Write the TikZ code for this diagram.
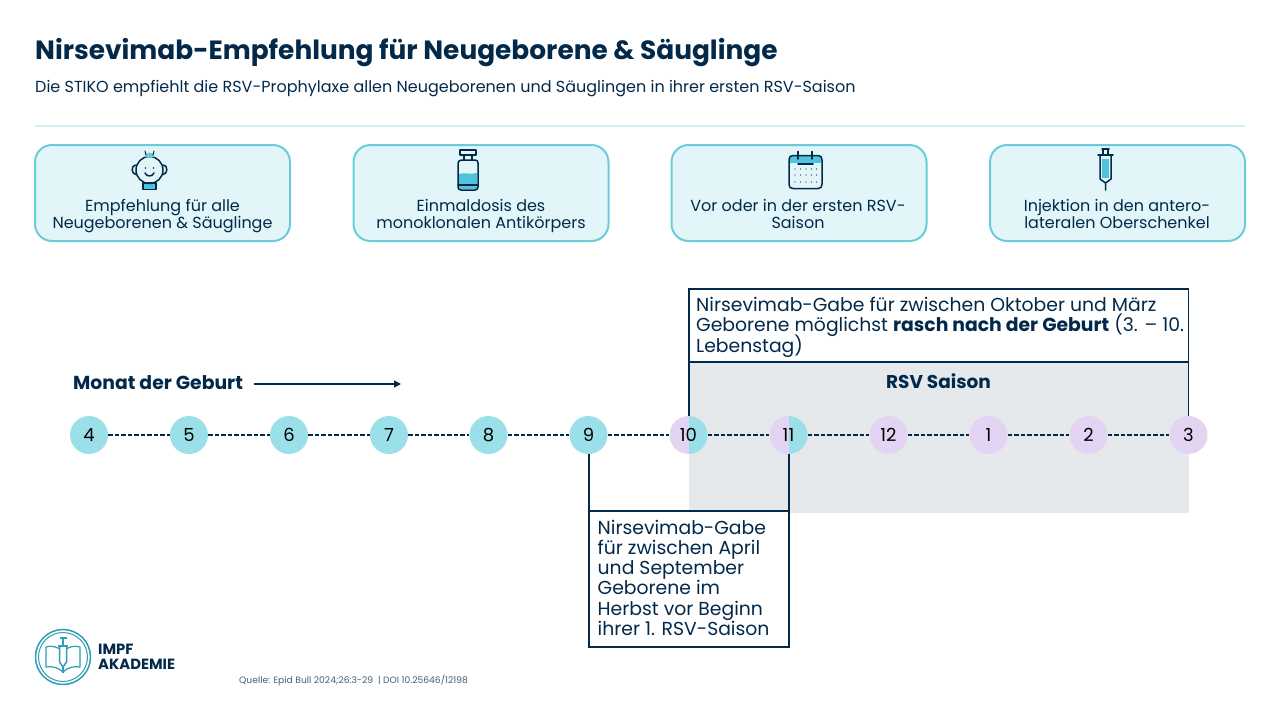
\documentclass[tikz,border=0pt]{standalone}
\usepackage{fontspec}
\setmainfont{Poppins}
\usetikzlibrary{positioning,arrows.meta}
\setlength{\lineskiplimit}{-20pt}
\definecolor{navy}{HTML}{03294A}
\definecolor{teal}{HTML}{6CCBDB}
\definecolor{rulecolor}{HTML}{D3EFF3}
\definecolor{tealfill}{HTML}{E2F5F9}
\definecolor{tealdot}{HTML}{9BDFE9}
\definecolor{lilac}{HTML}{E4D4F3}
\definecolor{seasongray}{HTML}{E5E9EC}
\definecolor{iconfill}{HTML}{4FC3D9}
\definecolor{logoteal}{HTML}{2E9DB5}
\tikzset{
  card/.style={draw=teal, line width=2pt, fill=tealfill, rounded corners=17pt, outer sep=0pt, minimum width=255pt, minimum height=96pt, anchor=north west},
  cardtext/.style={text=navy, font=\fontsize{16}{17}\selectfont, align=center, anchor=north},
  month/.style={circle, minimum size=38pt, inner sep=0pt, text=black, font=\fontsize{18}{18}\selectfont},
  tealmonth/.style={month, fill=tealdot},
  lilacmonth/.style={month, fill=lilac},
  halfmonth/.style={month, path picture={
      \fill[lilac] (path picture bounding box.south west) rectangle (path picture bounding box.north);
      \fill[tealdot] (path picture bounding box.south) rectangle (path picture bounding box.north east);}},
  link/.style={navy, line width=1.7pt, dash pattern=on 4.5pt off 2pt, yshift=-1pt},
  infobox/.style={draw=navy, line width=1.6pt, fill=white, outer sep=0pt, anchor=north west, inner sep=0pt},
  boxtext/.style={anchor=north west, inner sep=0pt, text=navy, align=left, font=\fontsize{18.8}{20.3}\selectfont},
  bracket/.style={navy, line width=1.6pt},
  icon/.style={navy, line width=1.5pt, line join=round, line cap=round},
  logoline/.style={logoteal, line width=1.2pt, line join=round}
}
\begin{document}
\begin{tikzpicture}[x=1pt,y=-1pt]
  \useasboundingbox (0,0) rectangle (1280,720);

  % Title
  \node[anchor=west, inner sep=0pt, text=navy, font=\fontsize{26.4}{27}\selectfont\bfseries] (title) at (35,53) {Nirsevimab-Empfehlung für Neugeborene \& Säuglinge};
  \node[anchor=west, inner sep=0pt, text=navy, font=\fontsize{16}{17}\selectfont] (subtitle) at (35,88.5) {Die STIKO empfiehlt die RSV-Prophylaxe allen Neugeborenen und Säuglingen in ihrer ersten RSV-Saison};
  \draw[rulecolor, line width=1.6pt] (35,126) -- (1245,126);

  % Cards
  \node[card] (cardbaby) at (35,145) {};
  \node[card] (cardvial) at (353.5,145) {};
  \node[card] (cardcal) at (671.5,145) {};
  \node[card] (cardsyringe) at (990,145) {};
  \node[cardtext] (textbaby) at (162.5,196) {Empfehlung für alle\\Neugeborenen \& Säuglinge};
  \node[cardtext] (textvial) at (481,196) {Einmaldosis des\\monoklonalen Antikörpers};
  \node[cardtext] (textcal) at (798,196) {Vor oder in der ersten RSV-\\Saison};
  \node[cardtext] (textsyringe) at (1117,196) {Injektion in den antero-\\lateralen Oberschenkel};

  % Baby
  \fill[iconfill] (143,183) rectangle (156,189.5);
  \draw[icon] (143,183) rectangle (156,189.5);
  \draw[icon] (135.5,165) .. controls (131,165.5) and (131,174) .. (136,174.5);
  \draw[icon] (163.5,165) .. controls (168,165.5) and (168,174) .. (163,174.5);
  \draw[icon] (149.5,170) circle (13.5);
  \fill[teal] (144.5,157) arc (180:360:5 and 4.5) -- cycle;
  \draw[icon, line width=1pt] (146,155) -- (145,151) (153,155) -- (154,151);
  \fill[navy] (145.5,168) circle (0.9) (153.5,168) circle (0.9);
  \draw[icon] (145,173) .. controls (147,177) and (152,177) .. (154,173);

  % Vial
  \fill[iconfill] (459,174) .. controls (464,172) and (470,175) .. (477,173) -- (477,189) -- (459,189) -- cycle;
  \draw[icon] (458,163) .. controls (458,161) and (460,160) .. (462,160) -- (475,160) .. controls (477,160) and (478,161) .. (478,163) -- (478,187) .. controls (478,189) and (477,190) .. (475,190) -- (461,190) .. controls (459,190) and (458,189) .. (458,187) -- cycle;
  \draw[icon] (460,150) rectangle (476,155) (464,155) -- (464,160) (472,155) -- (472,160) (458,185) -- (478,185);

  % Calendar
  \fill[iconfill] (790,156) rectangle (821,163);
  \draw[icon] (793,155.5) -- (818,155.5) .. controls (821,155.5) and (822,157) .. (822,160) -- (822,184) .. controls (822,187) and (821,188.5) .. (818,188.5) -- (793,188.5) .. controls (790,188.5) and (789,187) .. (789,184) -- (789,160) .. controls (789,157) and (790,155.5) .. (793,155.5) -- cycle;
  \draw[icon] (798,151.5) -- (798,159) (812,151.5) -- (812,159) (798,164) -- (813,164);
  \foreach \col in {795,800.5,806,811.5,816.5}
    \foreach \row in {169,175,182}
      \fill[navy] (\col,\row) circle (0.7);

  % Syringe
  \fill[iconfill] (1102,159) rectangle (1109,178);
  \draw[icon] (1098,155) -- (1113,155) (1102,149) -- (1109,149) (1103,149) -- (1103,155) (1108,149) -- (1108,155);
  \draw[icon] (1100,155) -- (1100,179) -- (1105.5,183) -- (1111,179) -- (1111,155) (1105.5,183) -- (1105.5,190);

  % Season
  \fill[seasongray] (689,362) rectangle (1189,513);
  \node[anchor=center, inner sep=0pt, text=navy, font=\fontsize{18.5}{18}\selectfont\bfseries] (season) at (938.5,381.5) {RSV Saison};

  % Months
  \node[anchor=west, inner sep=0pt, text=navy, font=\fontsize{18.8}{19}\selectfont\bfseries] (geburt) at (73,383) {Monat der Geburt};
  \coordinate (arrowstart) at (254,384);
  \coordinate (arrowend) at (401,384);
  \draw[-{Stealth[inset=0pt,length=7pt,width=7pt]}, navy, line width=1.5pt] (arrowstart) -- (arrowend);

  \node[tealmonth] (m4) at (89,435) {4};
  \node[tealmonth] (m5) at (189,435) {5};
  \node[tealmonth] (m6) at (289,435) {6};
  \node[tealmonth] (m7) at (389,435) {7};
  \node[tealmonth] (m8) at (488.5,435) {8};
  \node[tealmonth] (m9) at (588.5,435) {9};
  \node[halfmonth] (m10) at (688.5,435) {10};
  \node[halfmonth] (m11) at (788.5,435) {11};
  \node[lilacmonth] (m12) at (888.5,435) {12};
  \node[lilacmonth] (m1) at (988.5,435) {1};
  \node[lilacmonth] (m2) at (1088.5,435) {2};
  \node[lilacmonth] (m3) at (1188.5,435) {3};

  \foreach \a/\b in {m4/m5,m5/m6,m6/m7,m7/m8,m8/m9,m9/m10,m10/m11,m11/m12,m12/m1,m1/m2,m2/m3}
    \draw[link] (\a) -- (\b);

  % Boxes
  \node[infobox, minimum width=499.5pt, minimum height=73pt] (boxoct) at (689,289) {};
  \node[boxtext] (textoct) at (696,297) {Nirsevimab-Gabe für zwischen Oktober und März\\Geborene möglichst \textbf{rasch nach der Geburt} (3. – 10.\\Lebenstag)};
  \node[infobox, minimum width=200pt, minimum height=136pt] (boxapr) at (589,511) {};
  \node[boxtext] (textapr) at (597.5,519.5) {Nirsevimab-Gabe\\für zwischen April\\und September\\Geborene im\\Herbst vor Beginn\\ihrer 1. RSV-Saison};

  \draw[bracket] (boxoct.south west) -- (boxoct.south west |- m10.north);
  \draw[bracket] (boxoct.south east) -- (boxoct.south east |- m3.north);
  \draw[bracket] (m9.south -| boxapr.north west) -- (boxapr.north west);
  \draw[bracket] (m11.south -| boxapr.north east) -- (boxapr.north east);

  % Logo
  \draw[logoline, line width=1.5pt] (63,657) circle (27.5);
  \draw[logoline, line width=1pt] (63,657) circle (24.5);
  \draw[logoline] (63,672) .. controls (58,667) and (51,666) .. (46,667) -- (46,647) .. controls (51,645) and (58,647) .. (63,651) .. controls (68,647) and (75,645) .. (80,647) -- (80,667) .. controls (75,666) and (68,667) .. (63,672) -- cycle;
  \draw[logoline, line width=1.5pt, fill=white] (59.5,646) -- (66.5,646) -- (66.5,662) -- (63,667) -- (59.5,662) -- cycle;
  \draw[logoline] (63,667) -- (63,673) (58,646) -- (68,646) (63,646) -- (63,638) (59.5,638) -- (66.5,638);
  \node[anchor=north west, inner sep=0pt, text=navy, align=left, font=\fontsize{14.8}{14.5}\selectfont\bfseries] (logotext) at (98,644) {IMPF\\AKADEMIE};

  % Source
  \node[anchor=west, inner sep=0pt, text=navy!75!white, font=\fontsize{9.2}{10}\selectfont] (source) at (239,680) {Quelle: Epid Bull 2024;26:3-29 \ | DOI 10.25646/12198};
\end{tikzpicture}
\end{document}
